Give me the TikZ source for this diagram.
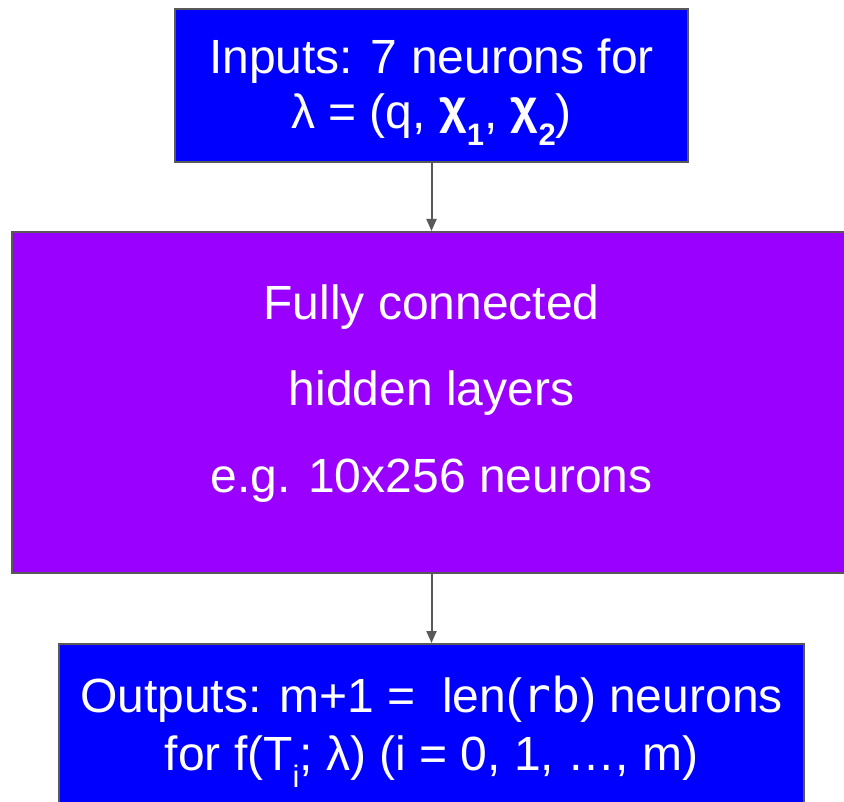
\documentclass[tikz,border=0pt]{standalone}
\usepackage{fontspec}
\setmainfont{Liberation Sans}
\newfontfamily\monof{DejaVu Sans Mono}
\usetikzlibrary{arrows.meta}
\definecolor{inblue}{HTML}{0000FF}
\definecolor{hidpurple}{HTML}{9900FF}
\definecolor{edgegray}{HTML}{595959}
\newcommand{\sbs}[1]{\raisebox{-17pt}{\fontsize{31}{31}\selectfont #1}}
\newcommand{\chisym}{\raisebox{5pt}{χ}}
\tikzset{
  box/.style={draw=edgegray, line width=2pt, rectangle, inner sep=0pt},
  txt/.style={text=white, inner sep=0pt, anchor=base, font=\fontsize{48}{56}\selectfont},
  arr/.style={draw=edgegray, line width=2pt, -{Triangle[width=10pt,length=12pt]}}
}
\begin{document}
\begin{tikzpicture}[x=1pt,y=-1pt]
\useasboundingbox (0,0) rectangle (844,802);
\fill[white] (0,0) rectangle (844,802);
\clip (0,0) rectangle (844,802);
% boxes
\node[box, fill=inblue, minimum width=513pt, minimum height=153pt] (inp) at (431.5,85.5) {};
\node[box, fill=hidpurple, minimum width=839pt, minimum height=341pt] (hid) at (431.5,402.5) {};
\node[box, fill=inblue, minimum width=745pt, minimum height=180pt] (out) at (431.5,734) {};
% connectors
\draw[arr] (inp.south) -- (hid.north);
\draw[arr] (hid.south) -- (out.north);
% texts
\node[txt] (inp1) at (431.5,73.3) {Inputs: 7 neurons for};
\node[txt] (inp2) at (431.5,129) {λ = (q, {\bfseries \chisym\sbs{1}}, {\bfseries \chisym\sbs{2}})};
\node[txt] (hid1) at (431.5,320) {Fully connected};
\node[txt] (hid2) at (431.5,406) {hidden layers};
\node[txt] (hid3) at (431.5,492) {e.g. 10x256 neurons};
\node[txt] (out1) at (431.5,712) {Outputs: m+1 =\ \ len({\monof rb}) neurons};
\node[txt] (out2) at (431.5,770) {for f(T\sbs{i}; λ) (i = 0, 1, …, m)};
\end{tikzpicture}
\end{document}
